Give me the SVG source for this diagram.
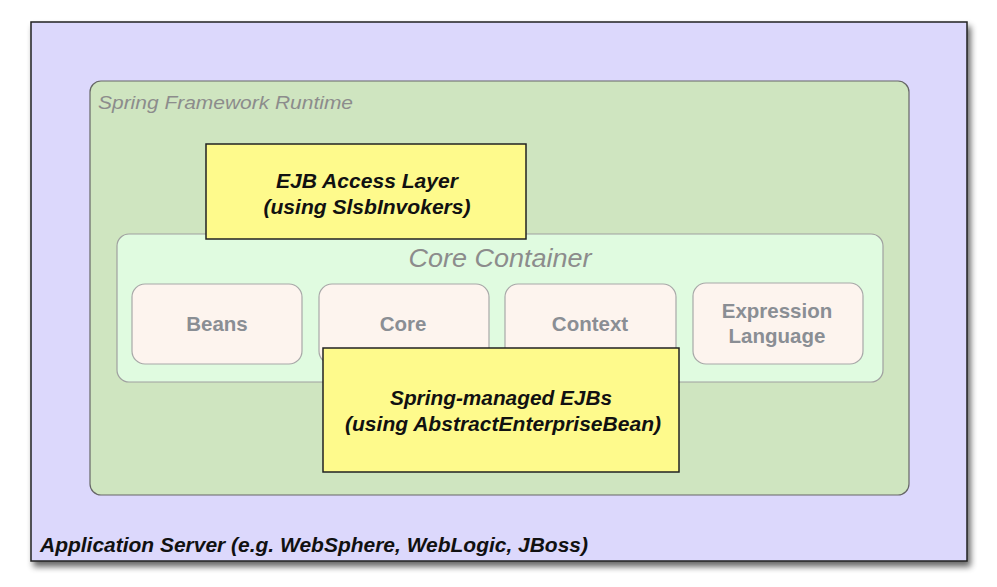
<svg xmlns="http://www.w3.org/2000/svg" width="997" height="587" viewBox="0 0 997 587">
<style>
.lbl{font-family:"Liberation Sans",Arial,sans-serif}
.mod rect{fill:#fdf4ee;stroke:#a8a8a8;stroke-width:1.2}
.mod text{font-family:"Liberation Sans",Arial,sans-serif;font-weight:bold;font-size:20.5px;fill:#8a8e94;text-anchor:middle}
.ejb rect{fill:#fefa8c;stroke:#222;stroke-width:1.5}
.ejb text{font-family:"Liberation Sans",Arial,sans-serif;font-weight:bold;font-style:italic;font-size:20px;fill:#111;text-anchor:middle}
</style>
<defs>
<filter id="sh" x="-5%" y="-5%" width="112%" height="115%">
<feGaussianBlur in="SourceAlpha" stdDeviation="3"/>
<feOffset dx="3" dy="5"/>
<feComponentTransfer><feFuncA type="linear" slope="0.6"/></feComponentTransfer>
<feMerge><feMergeNode/><feMergeNode in="SourceGraphic"/></feMerge>
</filter>
</defs>
<rect width="997" height="587" fill="#ffffff"/>
<g id="app-server">
<rect x="31" y="22" width="936" height="539" fill="#dcd8fc" stroke="#222" stroke-width="1.5" filter="url(#sh)"/>
<text class="lbl" x="40" y="552" font-size="20" font-weight="bold" font-style="italic" fill="#111" textLength="548" lengthAdjust="spacingAndGlyphs">Application Server (e.g. WebSphere, WebLogic, JBoss)</text>
</g>
<g id="runtime">
<rect x="90" y="81" width="819" height="414" rx="11" fill="#cfe5c0" stroke="#666" stroke-width="1.2"/>
<text class="lbl" x="98" y="109" font-size="19" font-style="italic" fill="#8c8c8c" textLength="255" lengthAdjust="spacingAndGlyphs">Spring Framework Runtime</text>
</g>
<g id="core-container">
<rect x="117" y="234" width="766" height="148" rx="12" fill="#e0fbe0" stroke="#a0a0a0" stroke-width="1.2"/>
<text class="lbl" x="500" y="267" font-size="26" font-style="italic" fill="#8c8c8c" text-anchor="middle" textLength="183" lengthAdjust="spacingAndGlyphs">Core Container</text>
</g>
<g id="beans" class="mod">
<rect x="132" y="284" width="170" height="80" rx="13"/>
<text x="217" y="331">Beans</text>
</g>
<g id="core" class="mod">
<rect x="319" y="284" width="170" height="80" rx="13"/>
<text x="403" y="331">Core</text>
</g>
<g id="context" class="mod">
<rect x="505" y="284" width="171" height="80" rx="13"/>
<text x="590" y="331">Context</text>
</g>
<g id="expression-language" class="mod">
<rect x="693" y="283" width="170" height="81" rx="13"/>
<text x="777" y="318">Expression</text>
<text x="777" y="343">Language</text>
</g>
<g id="ejb-access-layer" class="ejb">
<rect x="206" y="144" width="320" height="95"/>
<text x="367" y="188" textLength="182" lengthAdjust="spacingAndGlyphs">EJB Access Layer</text>
<text x="367" y="214" textLength="207" lengthAdjust="spacingAndGlyphs">(using SlsbInvokers)</text>
</g>
<g id="spring-managed-ejbs" class="ejb">
<rect x="323" y="348" width="356" height="124"/>
<text x="501" y="405" textLength="222" lengthAdjust="spacingAndGlyphs">Spring-managed EJBs</text>
<text x="503" y="431" textLength="316" lengthAdjust="spacingAndGlyphs">(using AbstractEnterpriseBean)</text>
</g>
<g id="connectors"></g>
</svg>
